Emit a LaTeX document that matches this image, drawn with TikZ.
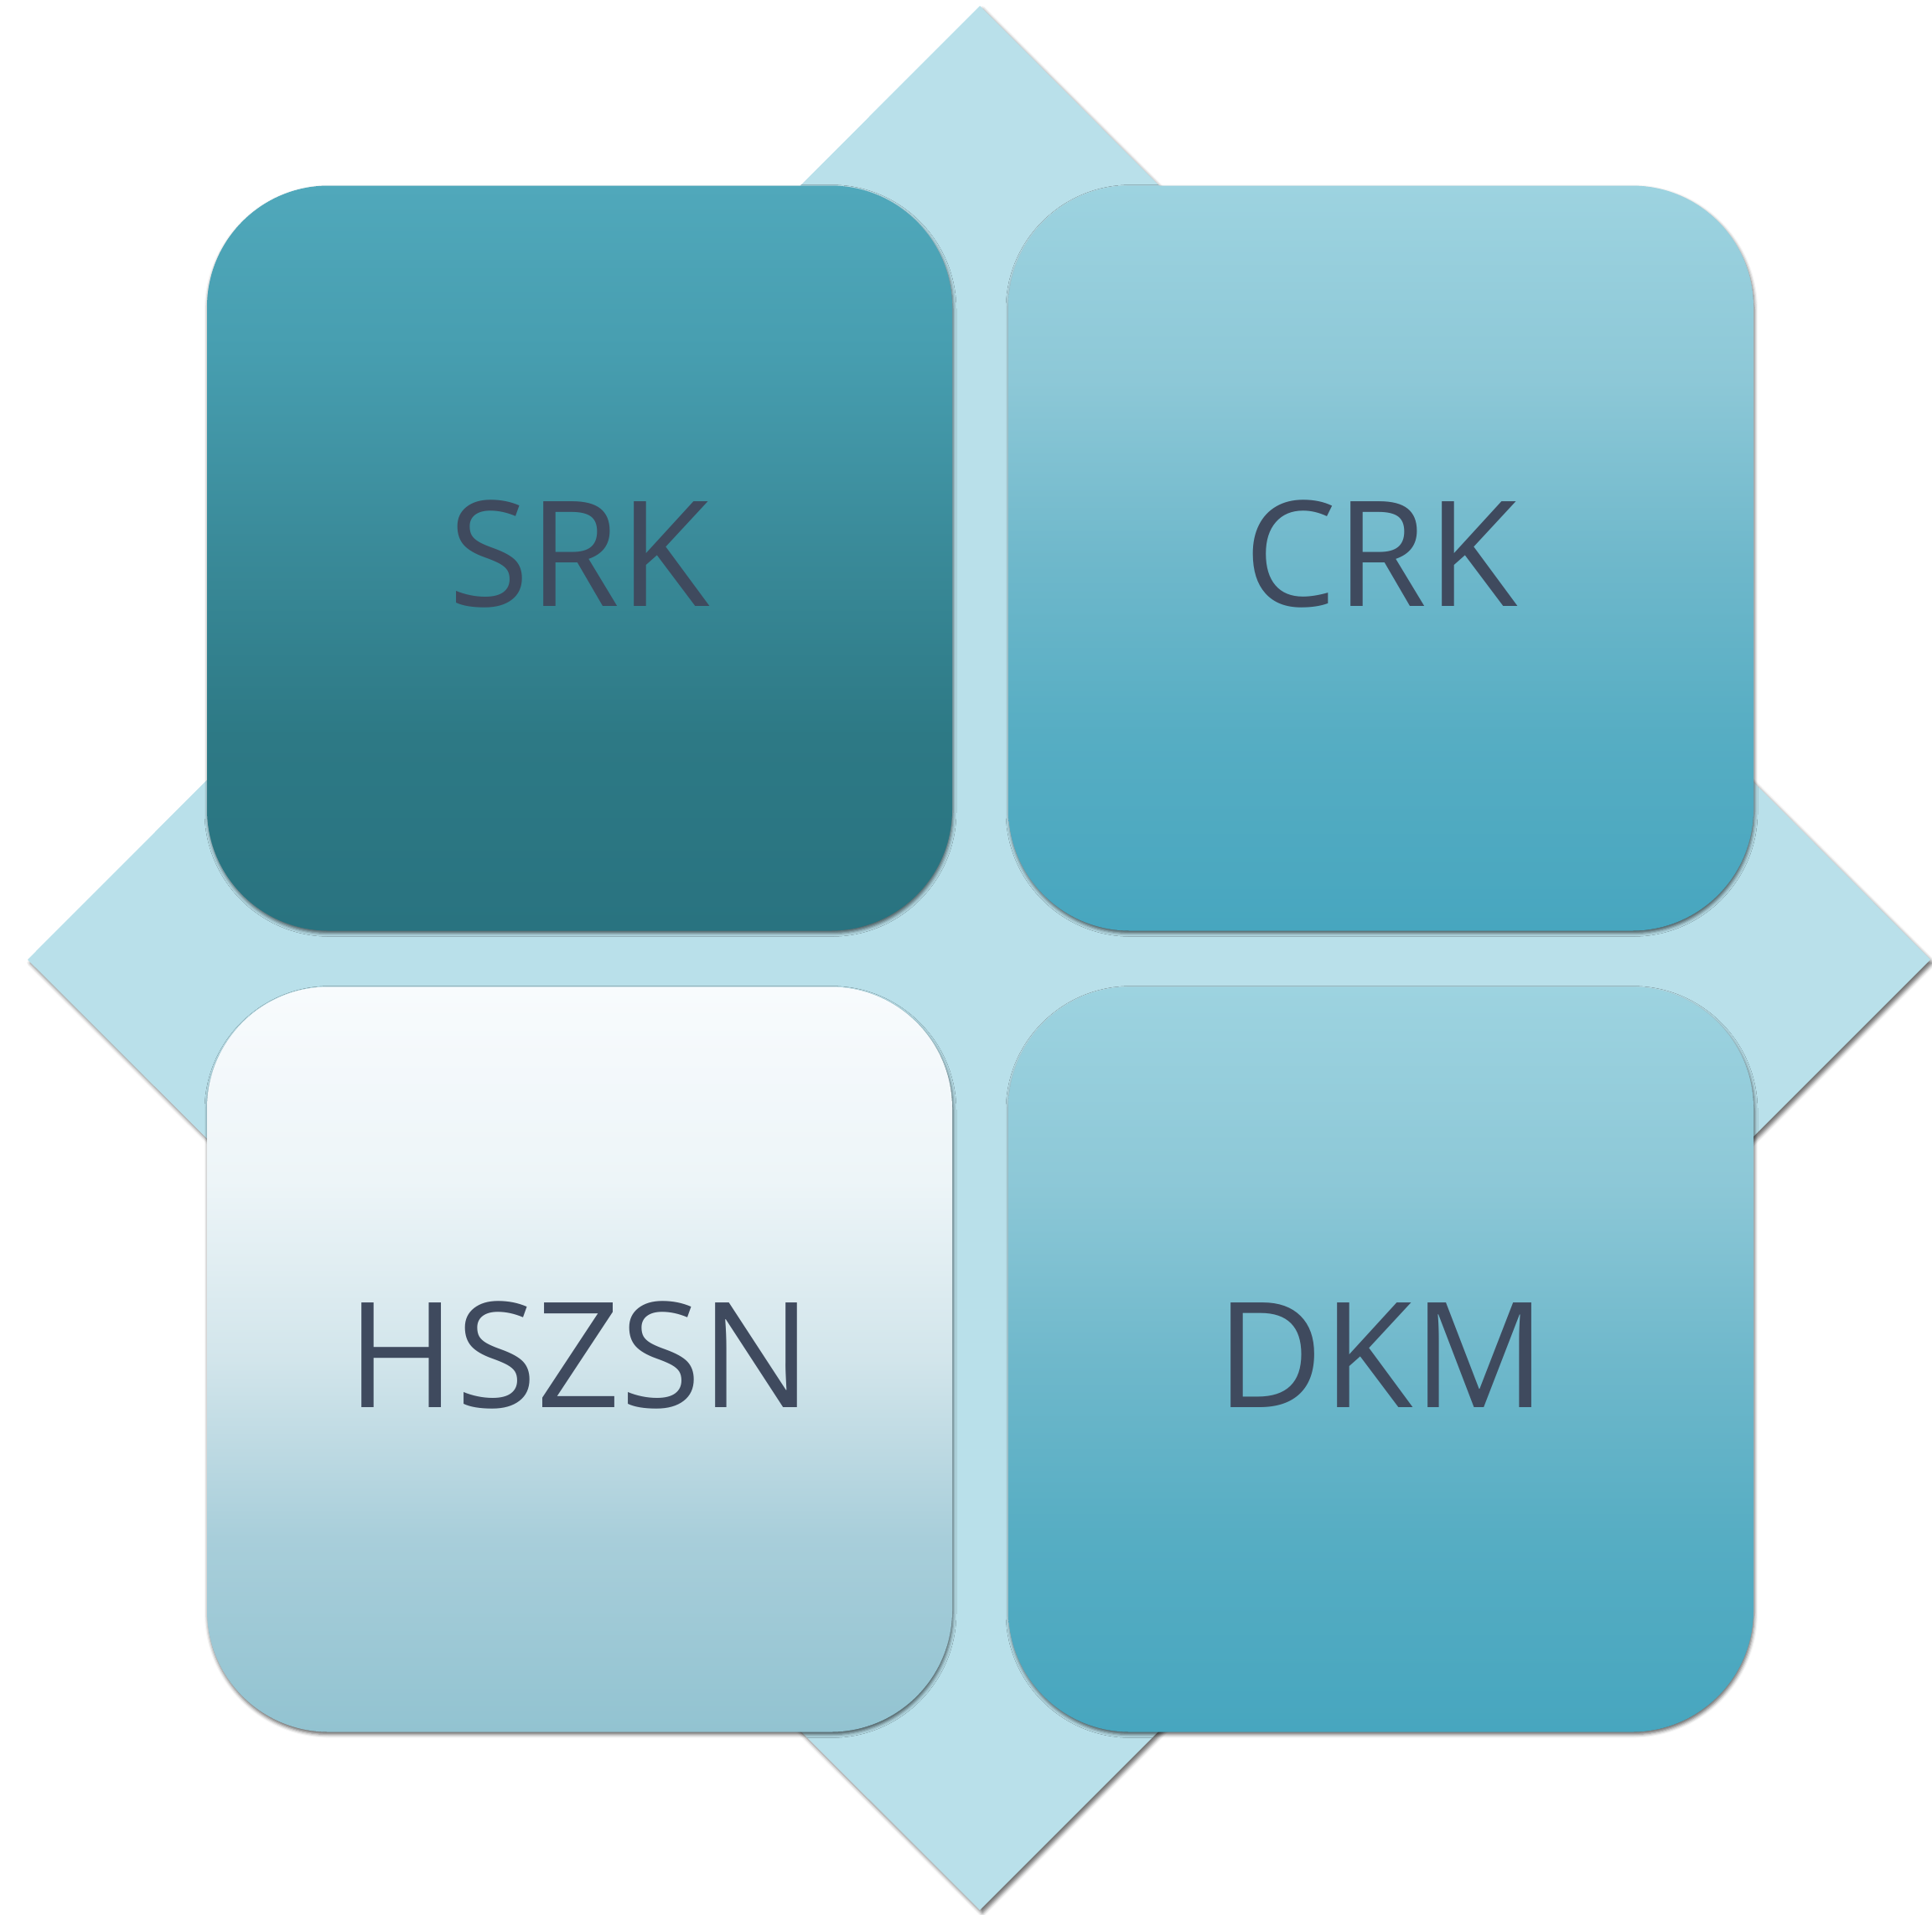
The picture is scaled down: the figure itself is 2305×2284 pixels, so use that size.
\documentclass[tikz,border=0pt]{standalone}
\usepackage{fontspec}
\setmainfont{Open Sans}
\usetikzlibrary{shadows.blur}
\definecolor{diam}{HTML}{B9E0EA}
\definecolor{txt}{HTML}{3F4A5E}
\definecolor{srkA}{HTML}{297380}
\definecolor{srkB}{HTML}{2D7985}
\definecolor{srkC}{HTML}{3B8C9B}
\definecolor{srkD}{HTML}{479EB0}
\definecolor{srkE}{HTML}{50A8BB}
\definecolor{crkA}{HTML}{47A6BF}
\definecolor{crkB}{HTML}{56ADC3}
\definecolor{crkC}{HTML}{6FB8CB}
\definecolor{crkD}{HTML}{8DC8D7}
\definecolor{crkE}{HTML}{9DD3E0}
\definecolor{hzA}{HTML}{92C3D1}
\definecolor{hzB}{HTML}{A8CEDA}
\definecolor{hzC}{HTML}{D2E5EB}
\definecolor{hzD}{HTML}{EDF5F8}
\definecolor{hzE}{HTML}{F8FBFD}
\pgfdeclareverticalshading{srkshade}{100bp}{color(0bp)=(srkA); color(25bp)=(srkA); color(38bp)=(srkB); color(52bp)=(srkC); color(64bp)=(srkD); color(75bp)=(srkE); color(100bp)=(srkE)}
\pgfdeclareverticalshading{crkshade}{100bp}{color(0bp)=(crkA); color(25bp)=(crkA); color(38bp)=(crkB); color(50bp)=(crkC); color(62bp)=(crkD); color(75bp)=(crkE); color(100bp)=(crkE)}
\pgfdeclareverticalshading{hszshade}{100bp}{color(0bp)=(hzA); color(25bp)=(hzA); color(38bp)=(hzB); color(50bp)=(hzC); color(62bp)=(hzD); color(75bp)=(hzE); color(100bp)=(hzE)}
\begin{document}
\begin{tikzpicture}[x=1pt,y=-1pt,
  tile/.style={rounded corners=145pt, minimum width=889pt, minimum height=889pt,
    inner sep=0pt, text=txt, font=\fontsize{175}{200}\selectfont,
    blur shadow={shadow xshift=1pt, shadow yshift=-3pt, shadow blur radius=4pt, shadow opacity=60}},
  lbl/.style={text=txt, font=\fontsize{175}{200}\selectfont, inner sep=0pt}]
\useasboundingbox (0,0) rectangle (2305,2284);
\path[fill=diam, blur shadow={shadow xshift=3pt, shadow yshift=-4pt, shadow blur radius=4pt, shadow opacity=55}]
  (1169,7) -- (2303,1145) -- (1169,2279) -- (33,1145) -- cycle;
\node[tile, shading=srkshade] (srk) at (691.5,666) {};
\node[tile, shading=crkshade] (crk) at (1647.5,666) {};
\node[tile, shading=hszshade] (hszsn) at (691.5,1622) {};
\node[tile, shading=crkshade] (dkm) at (1647.5,1622) {};
\node[lbl] (srkt) at ([yshift=5pt]srk.center) {SRK};
\node[lbl] (crkt) at ([yshift=5pt]crk.center) {CRK};
\node[lbl] (hszsnt) at ([yshift=5pt]hszsn.center) {HSZSN};
\node[lbl] (dkmt) at ([yshift=5pt]dkm.center) {DKM};
\end{tikzpicture}
\end{document}
